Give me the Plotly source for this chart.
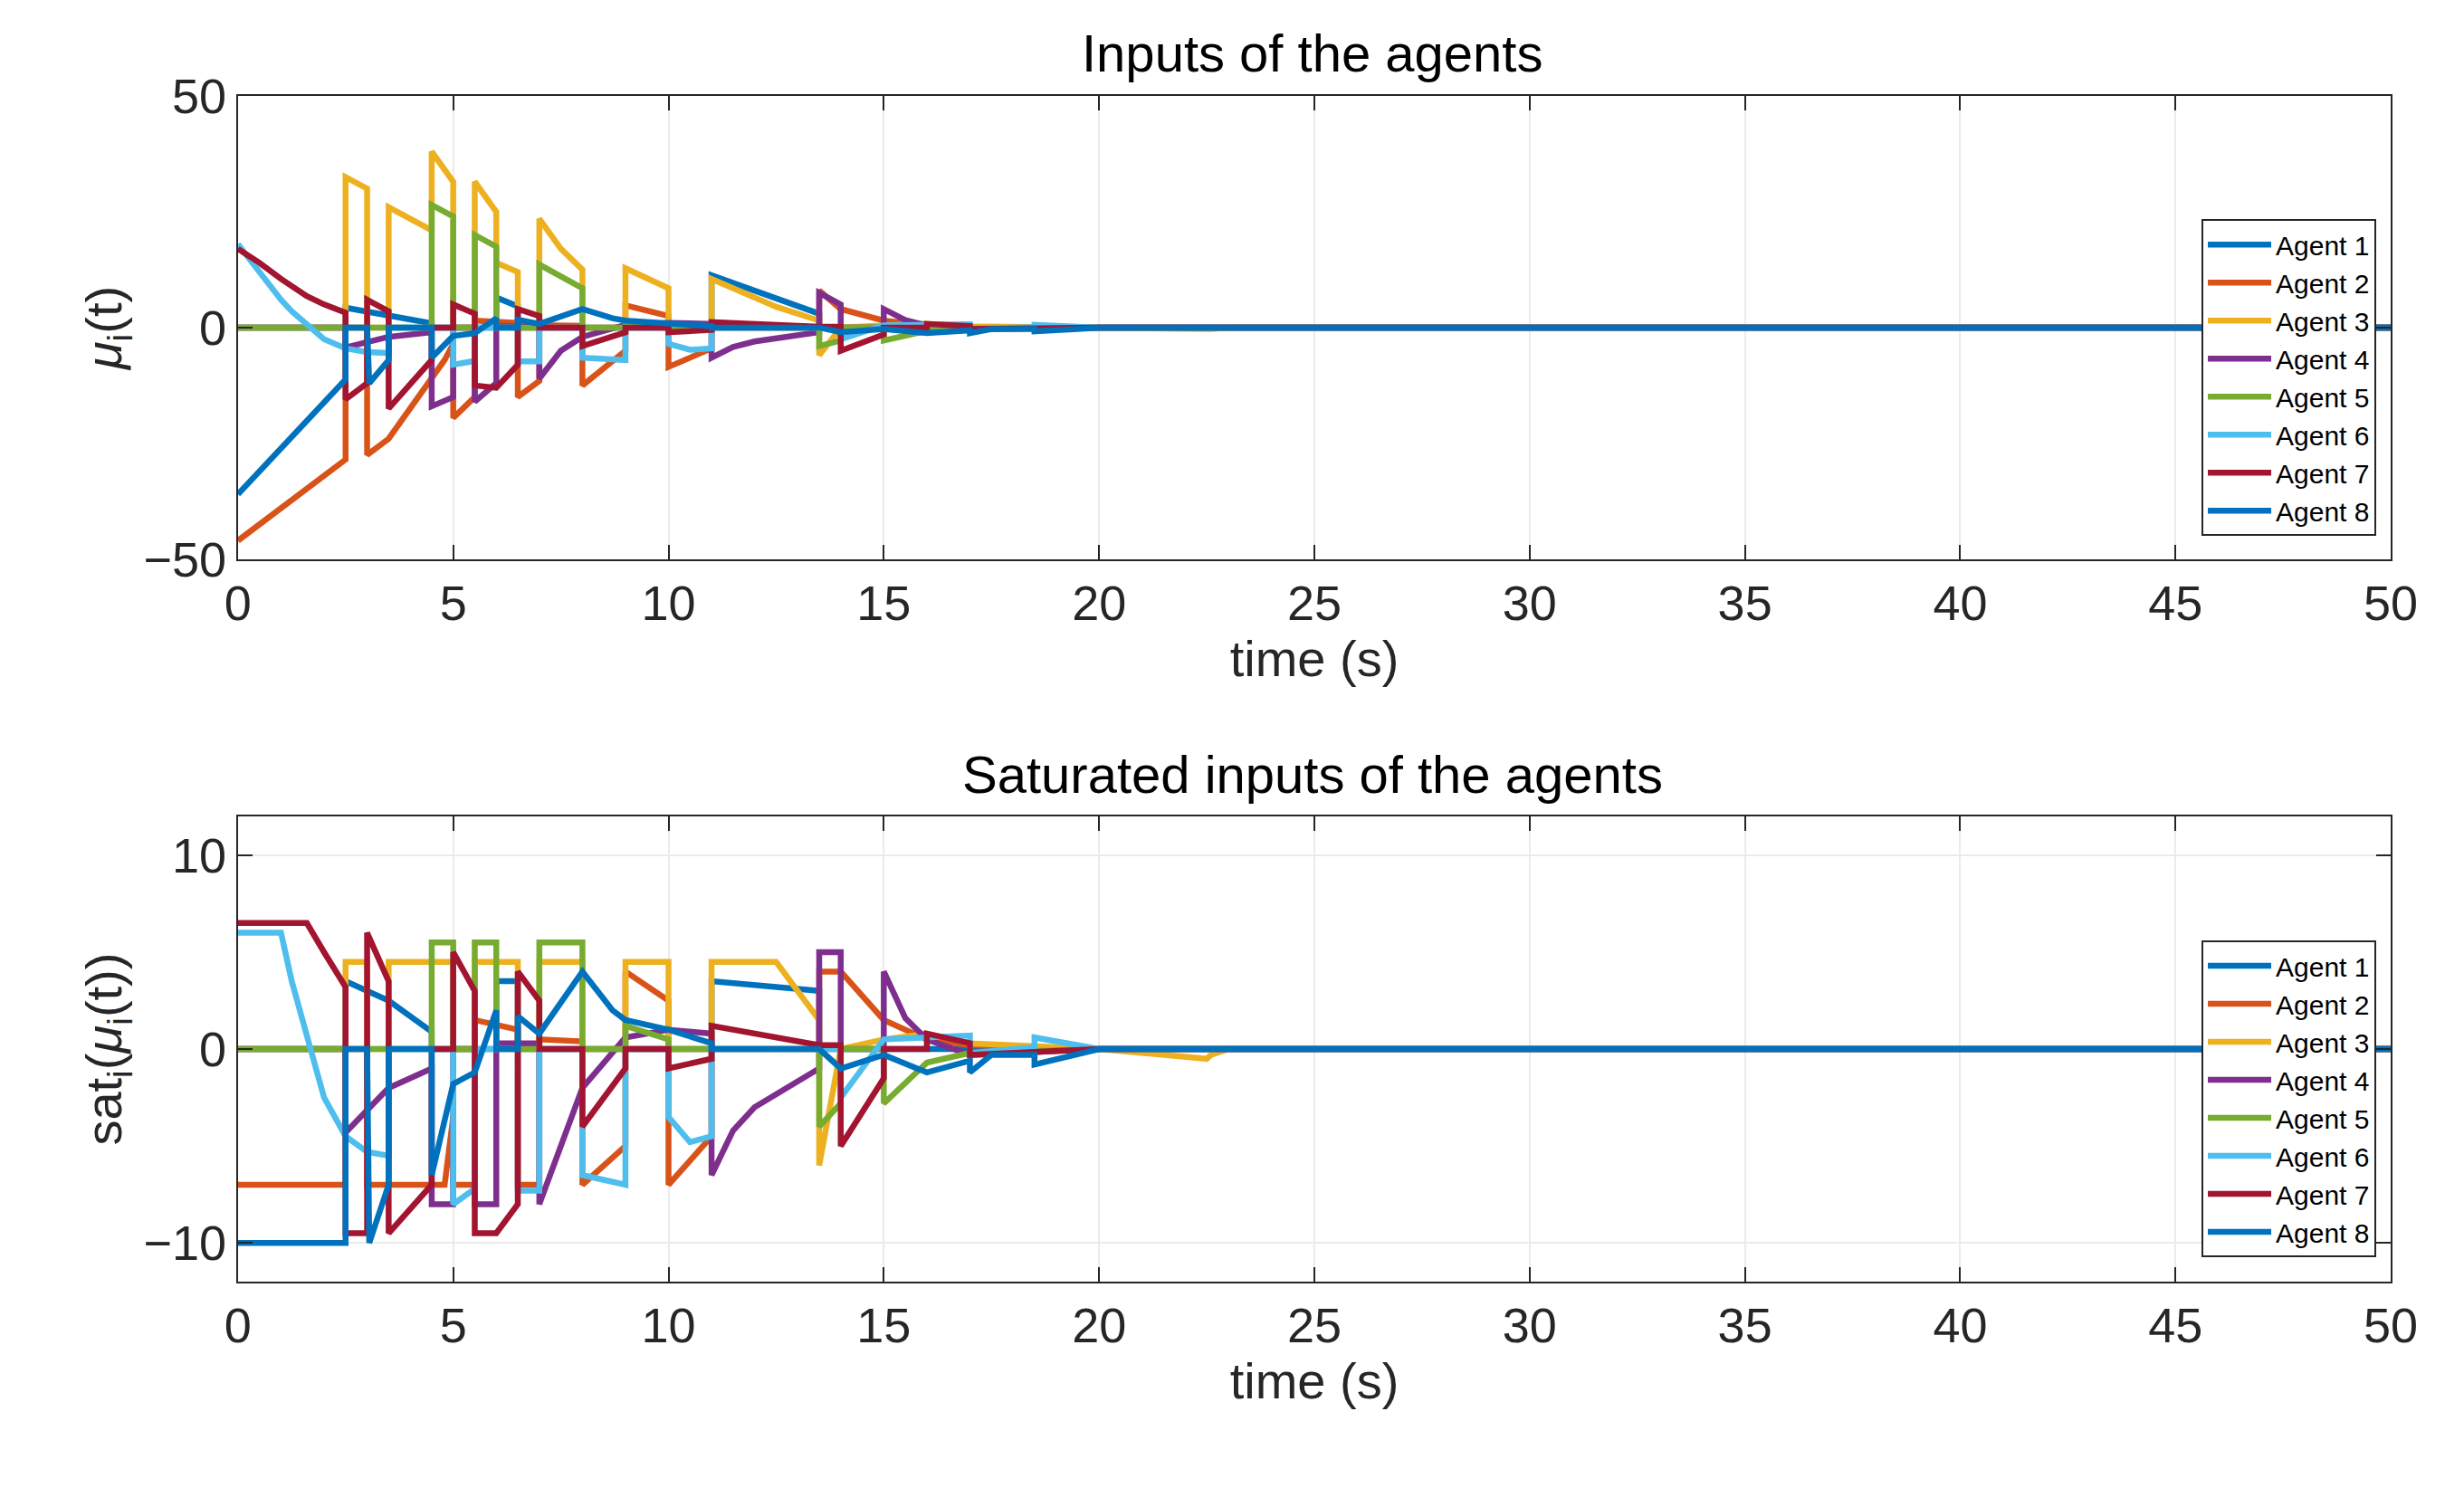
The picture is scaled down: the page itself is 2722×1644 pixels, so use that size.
import numpy as np
import plotly.graph_objects as go
from plotly.subplots import make_subplots

agents = [f"Agent {i}" for i in range(1, 9)]
colors = ["#0072BD", "#D95319", "#EDB120", "#7E2F8E", "#77AC30", "#4DBEEE", "#A2142F", "#0072BD"]

# breakpoints of the raw inputs mu_i(t)
t1 = [0, 2.5, 2.5, 3.5, 4.5, 4.5, 6.0, 6.0, 6.5, 6.5, 11.0, 11.0, 13.5, 13.5, 20, 50]
v1 = [0, 0, 4.3, 2.5, 0.9, 0, 0, 6.5, 4.6, 0, 0, 11.3, 3.0, 0, 0, 0]
t2 = [0, 2.5, 2.5, 3.0, 3.0, 3.5, 4.8, 5.0, 5.0, 5.5, 5.5, 6.5, 6.5, 7.0, 7.0, 8.0, 8.0, 9.0, 9.0,
      10.0, 10.0, 11.0, 11.0, 13.5, 13.5, 14.0, 15.0, 16.0, 17.0, 20, 50]
v2 = [-46, -28.5, 0, 0, -27.5, -24, -7, -3.5, -19.5, -15, 1.5, 1.0, -15, -11.5, 0.5, 0.4, -12.5, -5, 4.8,
      2.5, -8.5, -4.5, 0, 0, 8, 4, 1.5, 0.5, 0.2, 0, 0]
t3 = [0, 2.5, 2.5, 3.0, 3.0, 3.5, 3.5, 4.5, 4.5, 5.0, 5.0, 5.5, 5.5, 6.0, 6.0, 6.5, 6.5, 7.0, 7.0, 7.5, 8.0, 8.0,
      9.0, 9.0, 10.0, 10.0, 11.0, 11.0, 12.5, 13.5, 13.5, 14.0, 15, 16, 17, 20, 22.5, 22.6, 23, 50]
v3 = [0, 0, 32.5, 30, 0, 0, 26, 21, 38, 31.5, 0, 0, 31.5, 25, 14, 12, 0, 0, 23.5, 17, 12.5, 0,
      0, 12.8, 8.5, 0, 0, 10.5, 4.5, 1.5, -6, 0, 0.5, 0.8, 0.3, 0, -0.5, -0.3, 0, 0]
t4 = [0, 2.5, 2.5, 3.5, 4.5, 4.5, 5.0, 5.0, 5.5, 5.5, 6.0, 6.0, 7.0, 7.0, 7.5, 8.0, 9.0, 10.0, 11.0, 11.0,
      11.5, 12, 13.5, 13.5, 14.0, 14.0, 15.0, 15.0, 15.5, 16.0, 17, 20, 50]
v4 = [0, 0, -4.3, -2.0, -1, -17, -15, 0, 0, -16, -12, 0.3, 0.3, -11, -5, -2, 0.6, 1, 0.8, -6.5,
      -4.2, -3, -1, 7.5, 5, 0, 0, 4, 1.6, 0.5, -0.3, 0, 0]
t5 = [0, 4.5, 4.5, 5.0, 5.0, 5.5, 5.5, 6.0, 6.0, 7.0, 7.0, 8.0, 8.0, 9.0, 9.0, 10.0, 10.0, 13.5, 13.5,
      14.0, 14.0, 15.0, 15.0, 16.0, 17, 20, 50]
v5 = [0, 0, 26.5, 24, 0, 0, 20, 17.5, 0, 0, 13.6, 8.5, 0, 0, 1.2, 0.5, 0, 0, -4,
      -2.8, 0, 0, -2.8, -0.7, -0.2, 0, 0]
t6 = [0, 0.25, 0.5, 0.75, 1.0, 1.25, 1.5, 2.0, 2.5, 3.0, 3.5, 3.5, 5.0, 5.0, 5.5, 5.5, 6.5, 6.5, 7.0, 7.0,
      8.0, 8.0, 9.0, 9.0, 10.0, 10.0, 10.5, 11.0, 11.0, 14.0, 14.0, 14.5, 15.0, 16.0, 17.0, 17.0, 18.5,
      18.5, 19.5, 20, 50]
v6 = [18, 15, 11.5, 8.5, 6, 3.5, 1.5, -2.5, -4.5, -5.3, -5.5, 0, 0, -8, -7.2, 0, 0, -7.3, -7.3, 0,
      0, -6.5, -7, 0, 0, -3.5, -4.8, -4.5, 0, 0, -2.5, -1, 0.5, 0.6, 0.7, -0.2, 0.1,
      0.6, 0.2, 0, 0]
t7 = [0, 0.5, 1.0, 1.6, 2.0, 2.5, 2.5, 3.0, 3.0, 3.5, 3.5, 4.5, 4.5, 5.0, 5.0, 5.5, 5.5, 6.0, 6.5, 6.5,
      7.0, 7.0, 8.0, 8.0, 9.0, 9.0, 10.0, 10.0, 11.0, 11.0, 13.5, 14.0, 14.0, 15.0, 15.0, 16.0, 16.0,
      17, 17, 20, 50]
v7 = [17, 14, 10.5, 6.8, 5, 3.2, -15.5, -12, 6, 3.5, -17.5, -7, 0, 0, 5, 3, -12.5, -13, -8, 4,
      2.5, 0, 0, -4, -1, 0, 0, -1, -0.5, 1.2, 0.2, 0.2, -5, -1.5, 0, 0, 0.8,
      0.3, -0.3, 0, 0]
t8 = [0, 2.5, 2.5, 3.0, 3.05, 3.5, 3.5, 4.5, 4.5, 5.0, 5.5, 6.0, 6.0, 6.5, 6.5, 7.0, 8.0, 8.7, 9.0, 10.0,
      11.0, 11.0, 13.5, 14.0, 15.0, 16.0, 17.0, 17.0, 17.5, 18.5, 18.5, 19.5, 20, 50]
v8 = [-36, -11.2, 0, 0, -12, -7, 0, 0, -6.5, -1.8, -1.2, 2, 0, 0, 1.7, 0.8, 4, 2, 1.5, 1.0,
      0.3, 0, 0, -1, -0.3, -1.2, -0.6, -1.2, -0.3, -0.3, -0.8, -0.3, 0, 0]

times = [t1, t2, t3, t4, t5, t6, t7, t8]
inputs = [v1, v2, v3, v4, v5, v6, v7, v8]
# saturation bounds (lower, upper) per agent
sat_low = [-10, -7, -6, -8, -6, -8, -9.5, -10]
sat_high = [3.5, 4, 4.5, 5, 5.5, 6, 6.5, 5]

FONT = "Liberation Sans, Arial, sans-serif"
fig = make_subplots(rows=2, cols=1)
for i, name in enumerate(agents):
    t = np.array(times[i], dtype=float)
    mu = np.array(inputs[i], dtype=float)
    sat = np.clip(mu, sat_low[i], sat_high[i])
    fig.add_scatter(x=t, y=mu, mode="lines", name=name, line=dict(color=colors[i], width=6.5),
                    legend="legend", row=1, col=1)
    fig.add_scatter(x=t, y=sat, mode="lines", name=name, line=dict(color=colors[i], width=6.5),
                    legend="legend2", row=2, col=1)

axis_style = dict(showline=True, linecolor="#262626", linewidth=2, mirror="ticks", ticks="inside",
                  ticklen=16, tickwidth=2, tickcolor="#262626", showgrid=True, gridcolor="#ebebeb",
                  gridwidth=2, zeroline=False, tickfont=dict(size=54, color="#262626"),
                  title_font=dict(size=56, color="#262626"))
fig.update_xaxes(range=[0, 50], dtick=5, title_text="time (s)", title_standoff=10,
                 domain=[0.0896, 0.978], **axis_style)
fig.update_yaxes(**axis_style)
fig.update_yaxes(range=[-50, 50], tickvals=[-50, 0, 50], ticktext=["\u221250", "0", "50"],
                 domain=[0.634, 0.957], title_text="<i>\u03bc</i><sub>i</sub>(t)", title_standoff=6,
                 row=1, col=1)
fig.update_yaxes(range=[-12, 12], tickvals=[-10, 0, 10], ticktext=["\u221210", "0", "10"],
                 domain=[0.13, 0.4545], title_text="sat<sub>i</sub>(<i>\u03bc</i><sub>i</sub>(t))",
                 title_standoff=6, row=2, col=1)

legend_style = dict(x=0.972, xanchor="right", bgcolor="white", bordercolor="#262626", borderwidth=2,
                    font=dict(size=30, color="black", family=FONT), itemwidth=70)
fig.update_layout(
    width=2722, height=1644, template="plotly_white", plot_bgcolor="white",
    font=dict(family=FONT),
    margin=dict(l=0, r=0, t=0, b=0),
    legend=dict(y=0.871, yanchor="top", **legend_style),
    legend2=dict(y=0.368, yanchor="top", **legend_style),
    annotations=[
        dict(text="Inputs of the agents", x=0.533, y=0.965, xref="paper", yref="paper",
             xanchor="center", yanchor="bottom", showarrow=False, font=dict(size=58, color="black")),
        dict(text="Saturated inputs of the agents", x=0.533, y=0.462, xref="paper", yref="paper",
             xanchor="center", yanchor="bottom", showarrow=False, font=dict(size=58, color="black")),
    ],
)
fig.write_html("out.html")
